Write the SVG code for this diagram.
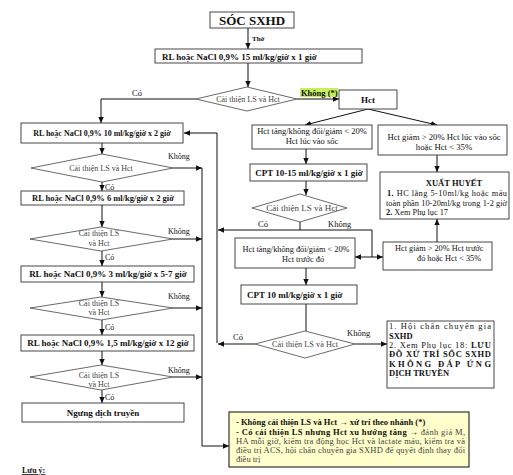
<svg xmlns="http://www.w3.org/2000/svg" width="513" height="475" viewBox="0 0 513 475">
<defs>
<marker id="ah" viewBox="0 0 10 10" refX="10" refY="5" markerWidth="6" markerHeight="6" markerUnits="userSpaceOnUse" orient="auto-start-reverse">
<path d="M0,0.5 L10,5 L0,9.5 z" fill="#111"/>
</marker>
</defs>
<style>
text{font-family:"Liberation Serif","Times New Roman",serif;fill:#111}
.b{font-weight:bold}
.d{fill:#444}
.box{fill:#fff;stroke:#333;stroke-width:0.9}
.dia{fill:#fff;stroke:#444;stroke-width:0.8}
.ln{fill:none;stroke:#111;stroke-width:1}
.ar{fill:none;stroke:#111;stroke-width:1;marker-end:url(#ah)}
.m{text-anchor:middle}
</style>
<rect width="513" height="475" fill="#fff"/>

<g id="connectors">
<path class="ar" d="M248,28 V49"/>
<path class="ar" d="M248,63 V87"/>
<path class="ar" d="M196,99 H101 V123"/>
<path class="ar" d="M297,99 H339"/>
<path class="ar" d="M368,109 L305,125"/>
<path class="ar" d="M368,109 L437,125"/>
<path class="ar" d="M306,149 V164"/>
<path class="ar" d="M437,155 V172"/>
<path class="ar" d="M306,181 V195"/>
<path class="ln" d="M300,222 V230 H372 V257"/>
<path class="ar" d="M300,230 H218"/>
<path class="ln" d="M355,257 H383" marker-start="url(#ah)" marker-end="url(#ah)"/>
<path class="ar" d="M437,242 V219"/>
<path class="ar" d="M306,268 V285"/>
<path class="ln" d="M306,304 V331"/>
<path class="ar" d="M255,344 H218"/>
<path class="ar" d="M355,344 H387"/>
<path class="ar" d="M217,343 V133 H184"/>
<path class="ar" d="M102,143 V154"/>
<path class="ar" d="M173,168 H202"/>
<path class="ar" d="M102,182 V191"/>
<path class="ar" d="M102,205 V227"/>
<path class="ar" d="M173,239 H202"/>
<path class="ar" d="M102,251 V266"/>
<path class="ar" d="M102,282 V297"/>
<path class="ar" d="M173,308 H202"/>
<path class="ar" d="M102,320 V335"/>
<path class="ar" d="M102,351 V365"/>
<path class="ar" d="M173,377 H202"/>
<path class="ar" d="M102,390 V403"/>
<path class="ar" d="M202,168 V446 H229"/>
<text x="252" y="41" class="b" font-size="7">Thở</text>
<text x="132" y="96" font-size="8.5">Có</text>
<rect x="300" y="88" width="38" height="9" fill="#c9ef5e"/>
<text x="301" y="95.5" class="b" font-size="8.5">Không (*)</text>
<text x="258" y="227" font-size="8.5">Có</text>
<text x="328" y="227" font-size="8.5">Không</text>
<text x="233" y="340" font-size="8.5">Có</text>
<text x="347" y="336" font-size="8.5">Không</text>
<text x="168" y="159" font-size="8">Không</text>
<text x="105" y="190" font-size="8">Có</text>
<text x="168" y="234" font-size="8">Không</text>
<text x="105" y="260" font-size="8">Có</text>
<text x="168" y="299" font-size="8">Không</text>
<text x="105" y="330" font-size="8">Có</text>
<text x="168" y="373" font-size="8">Không</text>
<text x="105" y="400" font-size="8">Có</text>
</g>

<g id="n_soc">
<rect class="box" x="210" y="12" width="84" height="16"/>
<text x="252" y="24.5" class="b m" font-size="13">SÓC SXHD</text>
</g>
<g id="n_rl15">
<rect class="box" x="155" y="49" width="207" height="14"/>
<text x="162" y="59.5" class="b" font-size="9">RL hoặc NaCl 0,9% 15 ml/kg/giờ x 1 giờ</text>
</g>
<g id="n_dia0">
<polygon class="dia" points="196,99 247,87 297,99 247,111"/>
<text x="248" y="102" class="d m" font-size="8">Cải thiện LS và Hct</text>
</g>
<g id="n_hct">
<rect class="box" x="339" y="90" width="58" height="19"/>
<text x="368" y="103" class="b m" font-size="9">Hct</text>
</g>
<g id="n_hctL1">
<rect class="box" x="252" y="125" width="120" height="24"/>
<text x="312" y="134" class="m" font-size="8.5">Hct tăng/không đổi/giảm &lt; 20%</text>
<text x="312" y="144" class="m" font-size="8.5">Hct lúc vào sốc</text>
</g>
<g id="n_hctR1">
<rect class="box" x="378" y="125" width="129" height="30"/>
<text x="444" y="140" class="m" font-size="8.7">Hct giảm &gt; 20% Hct lúc vào sốc</text>
<text x="444" y="150" class="m" font-size="8.7">hoặc Hct &lt; 35%</text>
</g>
<g id="n_cpt1">
<rect class="box" x="250" y="164" width="117" height="17"/>
<text x="309" y="175.5" class="b m" font-size="9">CPT 10-15 ml/kg/giờ x 1 giờ</text>
</g>
<g id="n_xh">
<rect class="box" x="380" y="172" width="129" height="47"/>
<text x="454" y="186" class="b m" font-size="8.5">XUẤT HUYẾT</text>
<text x="387" y="196" font-size="8.3" textLength="120" lengthAdjust="spacing"><tspan class="b">1.</tspan> HC lắng 5-10ml/kg hoặc máu</text>
<text x="386" y="206" font-size="8.3" textLength="121" lengthAdjust="spacing">toàn phần 10-20ml/kg trong 1-2 giờ</text>
<text x="386" y="215" font-size="8.3"><tspan class="b">2.</tspan> Xem Phụ lục 17</text>
</g>
<g id="n_dia_cpt">
<polygon class="dia" points="252,208 300,194 347,208 300,222"/>
<text x="302" y="211" class="d m" font-size="9">Cải thiện LS và Hct</text>
</g>
<g id="n_hctL2">
<rect class="box" x="235" y="238" width="120" height="30"/>
<text x="296" y="252" class="m" font-size="8.3">Hct tăng/không đổi/giảm &lt; 20%</text>
<text x="303" y="262" class="m" font-size="8.3">Hct trước đó</text>
</g>
<g id="n_hctR2">
<rect class="box" x="383" y="242" width="109" height="28"/>
<text x="395" y="251" font-size="8.3">Hct giảm &gt; 20% Hct trước</text>
<text x="417" y="261" font-size="8.3">đó hoặc Hct &lt; 35%</text>
</g>
<g id="n_cpt2">
<rect class="box" x="241" y="285" width="116" height="19"/>
<text x="247" y="298" class="b" font-size="9">CPT 10 ml/kg/giờ x 1 giờ</text>
</g>
<g id="n_dia_cpt2">
<polygon class="dia" points="255,344 305,331 355,344 305,358"/>
<text x="305" y="347" class="d m" font-size="8.3">Cải thiện LS và Hct</text>
</g>
<g id="n_hoichan">
<rect class="box" x="387" y="321" width="107" height="67"/>
<text x="389" y="329" font-size="8.5" textLength="102" lengthAdjust="spacing">1. Hội chẩn chuyên gia</text>
<text x="389" y="339" class="b" font-size="8.5">SXHD</text>
<text x="389" y="348" font-size="8.5" textLength="102" lengthAdjust="spacing">2. Xem Phụ lục 18: <tspan class="b">LƯU</tspan></text>
<text x="389" y="357" class="b" font-size="8.5" textLength="102" lengthAdjust="spacing">ĐỒ XỬ TRÍ SỐC SXHD</text>
<text x="389" y="367" class="b" font-size="8.5" textLength="102" lengthAdjust="spacing">KHÔNG ĐÁP ỨNG</text>
<text x="389" y="376" class="b" font-size="8.5">DỊCH TRUYỀN</text>
</g>
<g id="n_rl10">
<rect class="box" x="21" y="123" width="162" height="20"/>
<text x="102" y="136" class="b m" font-size="8">RL hoặc NaCl 0,9% 10 ml/kg/giờ x 2 giờ</text>
</g>
<g id="n_dia1">
<polygon class="dia" points="31,168 102,154 173,168 102,182"/>
<text x="101" y="171" class="d m" font-size="8">Cải thiện LS và Hct</text>
</g>
<g id="n_rl6">
<rect class="box" x="21" y="191" width="163" height="14"/>
<text x="103" y="201" class="b m" font-size="8.5">RL hoặc NaCl 0,9% 6 ml/kg/giờ x 2 giờ</text>
</g>
<g id="n_dia2">
<polygon class="dia" points="30,239 101,227 173,239 101,251"/>
<text x="99" y="236" class="d m" font-size="8">Cải thiện LS</text>
<text x="99" y="246" class="d m" font-size="8">và Hct</text>
</g>
<g id="n_rl3">
<rect class="box" x="21" y="266" width="173" height="16"/>
<text x="108" y="277" class="b m" font-size="9">RL hoặc NaCl 0,9% 3 ml/kg/giờ x 5-7 giờ</text>
</g>
<g id="n_dia3">
<polygon class="dia" points="30,308 101,297 173,308 101,320"/>
<text x="99" y="306" class="d m" font-size="8">Cải thiện LS</text>
<text x="99" y="315" class="d m" font-size="8">và Hct</text>
</g>
<g id="n_rl15b">
<rect class="box" x="21" y="335" width="173" height="16"/>
<text x="108" y="346" class="b m" font-size="9">RL hoặc NaCl 0,9% 1,5 ml/kg/giờ x 12 giờ</text>
</g>
<g id="n_dia4">
<polygon class="dia" points="30,377 101,365 173,377 101,390"/>
<text x="99" y="378" class="d m" font-size="8">Cải thiện LS</text>
<text x="99" y="387" class="d m" font-size="8">và Hct</text>
</g>
<g id="n_stop">
<rect class="box" x="22" y="403" width="162" height="19"/>
<text x="103" y="416" class="b m" font-size="9">Ngưng dịch truyền</text>
</g>
<g id="n_note">
<rect x="229" y="412" width="240" height="55" fill="#ffffcc" stroke="#333" stroke-width="1.2"/>
<text x="236" y="425" class="b" font-size="8.5">- Không cải thiện LS và Hct → xử trí theo nhánh (*)</text>
<text x="236" y="435" font-size="8.5" textLength="229" lengthAdjust="spacing"><tspan class="b">- Có cải thiện LS nhưng Hct xu hướng tăng →</tspan><tspan class="d"> đánh giá M,</tspan></text>
<text x="236" y="444" class="d" font-size="8.5" textLength="229" lengthAdjust="spacing">HA mỗi giờ, kiểm tra động học Hct và lactate máu, kiểm tra và</text>
<text x="236" y="453" class="d" font-size="8.5" textLength="229" lengthAdjust="spacing">điều trị ACS, hội chẩn chuyên gia SXHD để quyết định thay đổi</text>
<text x="236" y="462" class="d" font-size="8.5">điều trị</text>
</g>
<g id="n_luuy">
<text x="22" y="473" class="b" font-size="8" text-decoration="underline">Lưu ý:</text>
</g>
</svg>
